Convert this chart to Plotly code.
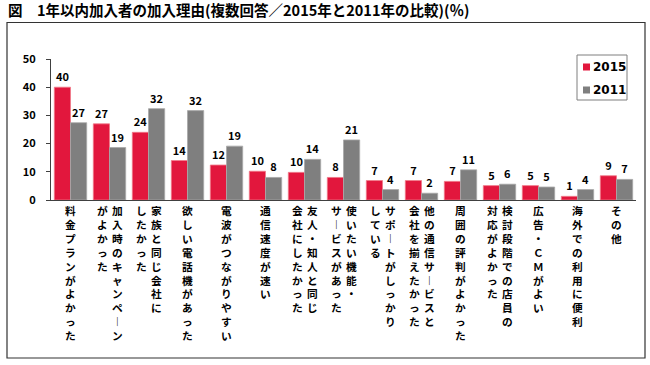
import plotly.graph_objects as go

# ---- data ----
categories = [
    "料金プランがよかった",
    "加入時のキャンペーンがよかった",
    "家族と同じ会社にしたかった",
    "欲しい電話機があった",
    "電波がつながりやすい",
    "通信速度が速い",
    "友人・知人と同じ会社にしたかった",
    "使いたい機能・サービスがあった",
    "サポートがしっかりしている",
    "他の通信サービスと会社を揃えたかった",
    "周囲の評判がよかった",
    "検討段階での店員の対応がよかった",
    "広告・ＣＭがよい",
    "海外での利用に便利",
    "その他",
]
# vertical label columns, right-most column first (Japanese vertical writing)
label_columns = [
    ["料金プランがよかった"],
    ["加入時のキャンペーン", "がよかった"],
    ["家族と同じ会社に", "したかった"],
    ["欲しい電話機があった"],
    ["電波がつながりやすい"],
    ["通信速度が速い"],
    ["友人・知人と同じ", "会社にしたかった"],
    ["使いたい機能・", "サービスがあった"],
    ["サポートがしっかり", "している"],
    ["他の通信サービスと", "会社を揃えたかった"],
    ["周囲の評判がよかった"],
    ["検討段階での店員の", "対応がよかった"],
    ["広告・ＣＭがよい"],
    ["海外での利用に便利"],
    ["その他"],
]
series_names = ["2015", "2011"]
values_2015 = [40.0, 27.0, 24.0, 14.0, 12.4, 10.2, 9.8, 8.0, 6.9, 6.9, 6.6, 5.1, 5.1, 1.3, 8.6]
values_2011 = [27.4, 18.6, 32.4, 31.7, 19.1, 8.0, 14.4, 21.3, 3.7, 2.4, 10.7, 5.6, 4.6, 3.7, 7.3]
y_ticks = [0, 10, 20, 30, 40, 50]
title_text = "図　1年以内加入者の加入理由(複数回答／2015年と2011年の比較)(％)"

# ---- styles ----
RED = "#E2173D"
GREY = "#7F7F7F"
FONT = "Noto Sans CJK JP"
W, H = 650, 365
ML, MR, MT, MB = 51, 14, 59, 165
PW = W - ML - MR
PH = H - MT - MB

def px_x(p):
    return (p - ML) / PW

def px_y(p):
    return (H - MB - p) / PH

fig = go.Figure()
for name, vals, col, lc in [(series_names[0], values_2015, RED, "#F07888"),
                            (series_names[1], values_2011, GREY, "#A8A8A8")]:
    fig.add_trace(go.Bar(
        x=categories, y=vals, name=name,
        marker=dict(color=col, line=dict(color=lc, width=0.8)),
        texttemplate="%{y:.0f}", textposition="outside",
        textfont=dict(family=FONT, size=11, color="black", weight="bold"),
        cliponaxis=False, showlegend=False,
    ))

# vertical category labels
annotations = []
for cat, cols in zip(categories, label_columns):
    n = len(cols)
    for j, col_text in enumerate(cols):
        chars = ["︱" if c == "ー" else c for c in col_text]
        annotations.append(dict(
            x=cat, xref="x", y=0, yref="y", yanchor="top", xanchor="center",
            xshift=((n - 1) / 2 - j) * 15, yshift=-1,
            text="<br>".join(chars), showarrow=False,
            font=dict(family=FONT, size=10.7, color="black", weight="bold"),
        ))

# manual legend
legend_cols = [RED, GREY]
legend_y = [67, 90]
shapes = [dict(type="rect", xref="paper", yref="paper",
               x0=px_x(577), x1=px_x(627), y0=px_y(100), y1=px_y(55),
               line=dict(color="#7F7F7F", width=1), fillcolor="white", layer="below")]
for name, c, yy in zip(series_names, legend_cols, legend_y):
    shapes.append(dict(type="rect", xref="paper", yref="paper",
                       x0=px_x(583), x1=px_x(590), y0=px_y(yy + 3.5), y1=px_y(yy - 3.5),
                       line=dict(width=0), fillcolor=c))
    annotations.append(dict(x=px_x(591), y=px_y(yy), xref="paper", yref="paper",
                            xanchor="left", yanchor="middle", text=name, showarrow=False,
                            font=dict(family="DejaVu Sans", size=12, color="black", weight="bold")))

# outer frame
shapes.append(dict(type="rect", xref="paper", yref="paper",
                   x0=px_x(7), x1=px_x(645), y0=px_y(358), y1=px_y(22.5),
                   line=dict(color="#333333", width=1.2), layer="below"))

fig.update_layout(
    width=W, height=H,
    margin=dict(l=ML, r=MR, t=MT, b=MB, pad=0),
    paper_bgcolor="white", plot_bgcolor="white",
    barmode="group", bargap=0.17, bargroupgap=0,
    title=dict(text=title_text, x=8 / W, xanchor="left", xref="container",
               y=1 - 11 / H, yanchor="middle", yref="container",
               font=dict(family=FONT, size=14.5, color="black", weight="bold")),
    xaxis=dict(showticklabels=False, ticks="", showline=True, linecolor="#404040",
               linewidth=1, showgrid=False, zeroline=False),
    yaxis=dict(range=[0, 50], tickvals=y_ticks, ticks="outside", ticklen=4,
               tickcolor="#404040", showline=True, linecolor="#404040", linewidth=1,
               showgrid=False, zeroline=False, ticklabelstandoff=8,
               tickfont=dict(family=FONT, size=11, color="black", weight="bold")),
    annotations=annotations, shapes=shapes,
    showlegend=False,
)
fig.write_html("out.html", config={"displayModeBar": False},
               post_script="document.body.style.margin='0';document.body.style.overflow='hidden';")
